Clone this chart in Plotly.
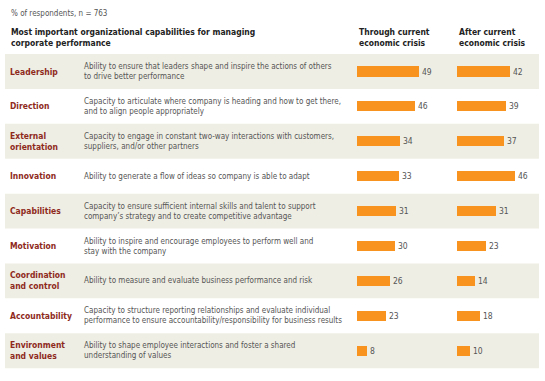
import plotly.graph_objects as go

categories = ["Leadership", "Direction", "External<br>orientation", "Innovation", "Capabilities",
              "Motivation", "Coordination<br>and control", "Accountability", "Environment<br>and values"]
descriptions = [
    "Ability to ensure that leaders shape and inspire the actions of others<br>to drive better performance",
    "Capacity to articulate where company is heading and how to get there,<br>and to align people appropriately",
    "Capacity to engage in constant two-way interactions with customers,<br>suppliers, and/or other partners",
    "Ability to generate a flow of ideas so company is able to adapt",
    "Capacity to ensure sufficient internal skills and talent to support<br>company\u2019s strategy and to create competitive advantage",
    "Ability to inspire and encourage employees to perform well and<br>stay with the company",
    "Ability to measure and evaluate business performance and risk",
    "Capacity to structure reporting relationships and evaluate individual<br>performance to ensure accountability/responsibility for business results",
    "Ability to shape employee interactions and foster a shared<br>understanding of values",
]
through_crisis = [49, 46, 34, 33, 31, 30, 26, 23, 8]
after_crisis = [42, 39, 37, 46, 31, 23, 14, 18, 10]
col_titles = ["Through current<br>economic crisis", "After current<br>economic crisis"]
subtitle = "% of respondents, n = 763"
header = "Most important organizational capabilities for managing<br>corporate performance"

W, H = 545, 381
FONT = "DejaVu Sans Condensed, Liberation Sans Narrow, Arial Narrow, sans-serif"
ORANGE = "#F7931E"
RED = "#8E2A1C"
GRAY = "#555555"
BAND = "#EFEEE4"

rows = list(range(len(categories)))
# pixel geometry of rows: centre of first row at y=71.5 px, pitch 34.9 px
y_top = (0 - 71.5) / 34.9
y_bot = (H - 71.5) / 34.9

def px(x):
    return x / W

fig = go.Figure()
unit = 1.26  # px per percentage point
rng = 60
for vals, ax in [(through_crisis, "x"), (after_crisis, "x2")]:
    fig.add_trace(go.Bar(
        x=vals, y=rows, orientation="h", xaxis=ax, yaxis="y",
        marker=dict(color=ORANGE, line=dict(width=0)),
        width=0.29, text=[str(v) for v in vals], textposition="outside",
        textfont=dict(family=FONT, size=8.5, color=GRAY), cliponaxis=False,
        hoverinfo="skip", showlegend=False,
    ))

fig.update_layout(
    width=W, height=H, margin=dict(l=0, r=0, t=0, b=0),
    paper_bgcolor="white", plot_bgcolor="rgba(0,0,0,0)",
    xaxis=dict(domain=[px(357), px(357 + rng * unit)], range=[0, rng], visible=False, fixedrange=True),
    xaxis2=dict(domain=[px(457), px(457 + rng * unit)], range=[0, rng], visible=False, fixedrange=True),
    yaxis=dict(domain=[0, 1], range=[y_bot, y_top], visible=False, fixedrange=True),
    bargap=0,
)

shapes = []
for i in rows:
    if i % 2 == 0:
        shapes.append(dict(type="rect", xref="paper", yref="y", x0=px(5), x1=px(539),
                           y0=i - 0.5, y1=i + 0.5, fillcolor=BAND, line=dict(width=0), layer="below"))
fig.update_layout(shapes=shapes)

ann = []
for i, (c, d) in enumerate(zip(categories, descriptions)):
    ann.append(dict(x=px(8), y=i, xref="paper", yref="y", text="<b>%s</b>" % c, showarrow=False,
                    xanchor="left", yanchor="middle", align="left",
                    font=dict(family=FONT, size=8.5, color=RED)))
    ann.append(dict(x=px(82), y=i, xref="paper", yref="y", text=d, showarrow=False,
                    xanchor="left", yanchor="middle", align="left",
                    font=dict(family=FONT, size=8, color=GRAY)))
ann.append(dict(x=px(9), y=1 - 13 / H, xref="paper", yref="paper", text=subtitle, showarrow=False,
                xanchor="left", yanchor="middle", font=dict(family=FONT, size=8, color=GRAY)))
ann.append(dict(x=px(9), y=1 - 38 / H, xref="paper", yref="paper", text="<b>%s</b>" % header, showarrow=False,
                xanchor="left", yanchor="middle", align="left", font=dict(family=FONT, size=8.5, color="#222222")))
for t, x in zip(col_titles, [357, 457]):
    ann.append(dict(x=px(x), y=1 - 38 / H, xref="paper", yref="paper", text="<b>%s</b>" % t, showarrow=False,
                    xanchor="left", yanchor="middle", align="left", font=dict(family=FONT, size=8.5, color="#222222")))
fig.update_layout(annotations=ann)

fig.write_html("out.html", config={"displayModeBar": False},
               post_script="document.body.style.margin='0';")
